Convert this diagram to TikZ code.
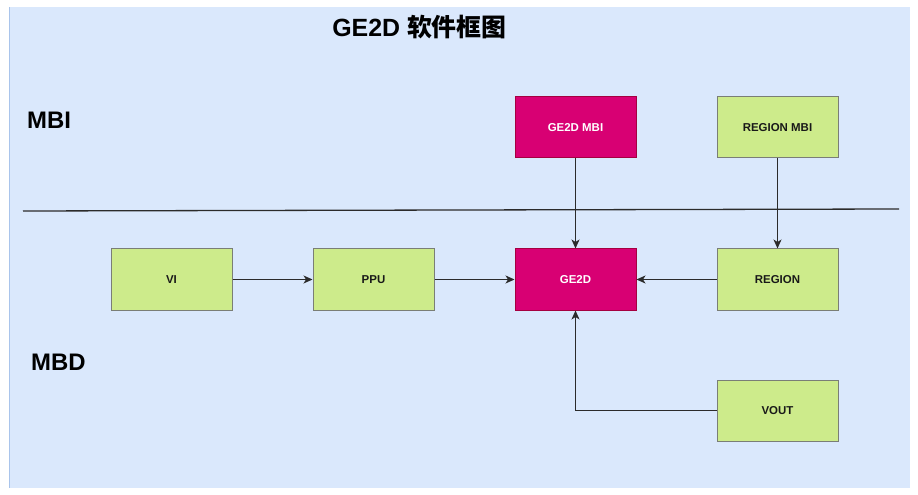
\documentclass[tikz,border=0pt]{standalone}
\usepackage{fontspec}
\setmainfont{Liberation Sans}
\newfontfamily\cjk{Noto Sans CJK SC}
\usetikzlibrary{arrows.meta}
\definecolor{bgblue}{HTML}{DAE8FC}
\definecolor{bgedge}{HTML}{A9C4EB}
\definecolor{pinkfill}{HTML}{D80073}
\definecolor{pinkdraw}{HTML}{A50040}
\definecolor{greenfill}{HTML}{CDEB8B}
\definecolor{greendraw}{HTML}{7A7E76}
\definecolor{linegray}{HTML}{2B2B2B}
\tikzset{
  blk/.style={rectangle, minimum width=121bp, minimum height=61bp, inner sep=0pt,
    line width=1bp, font=\fontsize{11.5}{12}\selectfont\bfseries},
  pinkbox/.style={blk, fill=pinkfill, draw=pinkdraw, text=white},
  greenbox/.style={blk, fill=greenfill, draw=greendraw, text=black!90},
  conn/.style={draw=linegray, line width=1.1bp, -{Stealth[length=9bp,width=8bp,inset=2.5bp]}},
  biglabel/.style={inner sep=0pt, font=\fontsize{24}{26}\selectfont\bfseries}
}
\begin{document}
\begin{tikzpicture}[x=1bp,y=-1bp]
\useasboundingbox (0,0) rectangle (918,495);
\fill[bgblue] (9,7) rectangle (910,488);
\draw[bgedge, line width=1bp] (9.5,7) -- (9.5,488);
\node[biglabel, anchor=base, font=\fontsize{25}{27}\selectfont\bfseries] (title) at (419.5,37) {GE2D {\cjk\bfseries 软件框图}};
\node[biglabel, anchor=west] (mbi) at (27,120) {MBI};
\node[biglabel, anchor=west] (mbd) at (31,362.5) {MBD};
\coordinate (divL) at (23,211);
\coordinate (divR) at (899,209);
\draw[draw=linegray, line width=1.3bp] (divL) -- (divR);
\node[pinkbox] (ge2dmbi) at (575.5,127.5) {GE2D MBI};
\node[greenbox] (regionmbi) at (777.5,127.5) {REGION MBI};
\node[greenbox] (vi) at (171.5,279.5) {VI};
\node[greenbox] (ppu) at (373.5,279.5) {PPU};
\node[pinkbox] (ge2d) at (575.5,279.5) {GE2D};
\node[greenbox] (region) at (777.5,279.5) {REGION};
\node[greenbox] (vout) at (777.5,410.5) {VOUT};
\draw[conn] (ge2dmbi) -- (ge2d);
\draw[conn] (regionmbi) -- (region);
\draw[conn] (vi) -- (ppu);
\draw[conn] (ppu) -- (ge2d);
\draw[conn] (region) -- (ge2d);
\draw[conn] (vout.west) -| (ge2d.south);
\end{tikzpicture}
\end{document}
